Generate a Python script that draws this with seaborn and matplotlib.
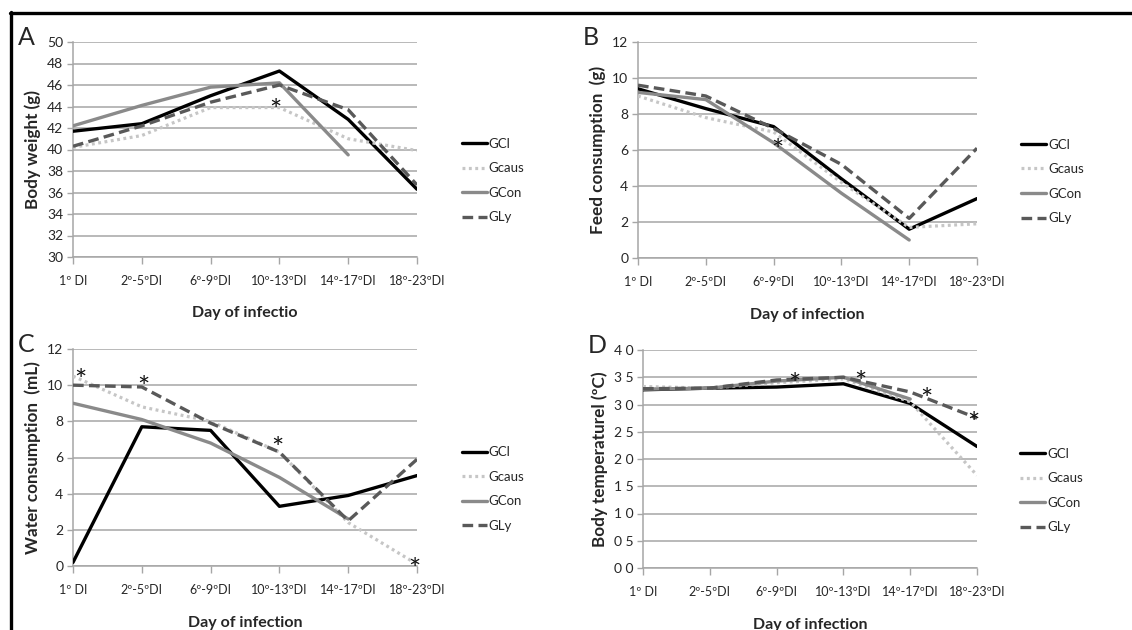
import numpy as np
import pandas as pd
import matplotlib
matplotlib.use("Agg")
import matplotlib.pyplot as plt
from matplotlib.lines import Line2D
from matplotlib.transforms import offset_copy
import seaborn as sns

sns.set_theme(style="white")
plt.rcParams['font.family'] = ['Lato', 'DejaVu Sans']

# ---------------- data ----------------
days = ["1º DI", "2º-5ºDI", "6º-9ºDI", "10º-13ºDI", "14º-17ºDI", "18º-23ºDI"]
groups = ["GCl", "Gcaus", "GCon", "GLy"]

weight_GCl = [41.7, 42.4, 45.0, 47.3, 42.8, 36.3]
weight_Gcaus = [40.2, 41.3, 43.9, 43.9, 41.0, 39.9]
weight_GCon = [42.2, 44.1, 45.8, 46.2, 39.5, np.nan]
weight_GLy = [40.3, 42.2, 44.4, 46.0, 43.7, 36.7]
weight_star_x = [2.94]
weight_star_y = [44.3]

feed_GCl = [9.4, 8.3, 7.3, 4.4, 1.6, 3.3]
feed_Gcaus = [9.0, 7.8, 7.0, 4.2, 1.7, 1.9]
feed_GCon = [9.2, 8.8, 6.4, 3.6, 1.0, np.nan]
feed_GLy = [9.6, 9.0, 7.2, 5.2, 2.2, 6.1]
feed_star_x = [2.06]
feed_star_y = [6.4]

water_GCl = [0.2, 7.7, 7.5, 3.3, 3.9, 5.0]
water_Gcaus = [10.5, 8.8, 8.0, 6.3, 2.4, 0.1]
water_GCon = [9.0, 8.1, 6.8, 4.9, 2.6, np.nan]
water_GLy = [10.0, 9.9, 7.9, 6.3, 2.5, 5.9]
water_star_x = [0.1, 1.02, 2.97, 4.96]
water_star_y = [10.7, 10.3, 6.9, 0.2]

temp_GCl = [32.7, 33.0, 33.2, 33.8, 30.2, 22.3]
temp_Gcaus = [33.3, 33.0, 34.0, 34.7, 30.5, 17.0]
temp_GCon = [32.8, 33.0, 34.3, 35.0, 31.0, np.nan]
temp_GLy = [32.9, 33.0, 34.5, 35.0, 32.3, 27.5]
temp_star_x = [2.27, 3.25, 4.24, 4.95]
temp_star_y = [35.0, 35.4, 32.3, 27.9]

temp_ticks = [0, 5, 10, 15, 20, 25, 30, 35, 40]
temp_ticklabels = ["0 0", "0 5", "1 0", "1 5", "2 0", "2 5", "3 0", "3 5", "4 0"]

# ---------------- styles ----------------
colors = {"GCl": "#000000", "Gcaus": "#c6c6c6", "GCon": "#8a8a8a", "GLy": "#595959"}
styles = {"GCl": "-", "Gcaus": (0, (0.9, 1.1)), "GCon": "-", "GLy": (0, (3.2, 1.6))}
widths = {"GCl": 2.4, "Gcaus": 2.3, "GCon": 2.4, "GLy": 2.4}
grid_c = "#a6a6a6"

fig = plt.figure(figsize=(11.32, 6.30), dpi=100)
W, H = 1132, 630

def axes_px(l, t, r, b):
    return fig.add_axes([l / W, 1 - b / H, (r - l) / W, (b - t) / H])

panels = [
    dict(box=(73, 42, 417, 257), series=[weight_GCl, weight_Gcaus, weight_GCon, weight_GLy],
         ylim=(30, 50), yticks=list(range(30, 51, 2)), yticklabels=None,
         ylabel="Body weight (g)", xlabel="Day of infectio", letter="A",
         sx=weight_star_x, sy=weight_star_y),
    dict(box=(638, 42, 977, 258), series=[feed_GCl, feed_Gcaus, feed_GCon, feed_GLy],
         ylim=(0, 12), yticks=list(range(0, 13, 2)), yticklabels=None,
         ylabel="Feed consumption  (g)", xlabel="Day of infection", letter="B",
         sx=feed_star_x, sy=feed_star_y),
    dict(box=(73, 349, 417, 566), series=[water_GCl, water_Gcaus, water_GCon, water_GLy],
         ylim=(0, 12), yticks=list(range(0, 13, 2)), yticklabels=None,
         ylabel="Water consumption  (mL)", xlabel="Day of infection", letter="C",
         sx=water_star_x, sy=water_star_y),
    dict(box=(643, 350, 977, 568), series=[temp_GCl, temp_Gcaus, temp_GCon, temp_GLy],
         ylim=(0, 40), yticks=temp_ticks, yticklabels=temp_ticklabels,
         ylabel="Body temperaturel (ºC)", xlabel="Day of infection", letter="D",
         sx=temp_star_x, sy=temp_star_y),
]

x = np.arange(len(days))
for p in panels:
    l, t, r, b = p["box"]
    ax = axes_px(l, t, r, b)
    handles = []
    for g, vals in zip(groups, p["series"]):
        df = pd.DataFrame({"x": x, "y": vals})
        sns.lineplot(data=df, x="x", y="y", ax=ax, color=colors[g],
                     linestyle=styles[g], linewidth=widths[g],
                     legend=False, zorder=3)
        handles.append(Line2D([], [], color=colors[g], linestyle=styles[g],
                              linewidth=widths[g]))
    star_tr = offset_copy(ax.transData, fig=fig, x=0, y=-9, units="dots")
    for sx, sy in zip(p["sx"], p["sy"]):
        ax.text(sx, sy, "*", ha="center", va="center", fontsize=21,
                color="#111111", zorder=5, transform=star_tr, clip_on=False)
    ax.set_xlim(0, 5)
    ax.set_ylim(*p["ylim"])
    ax.set_xticks(x)
    ax.set_xticklabels(days, fontsize=9)
    ax.set_yticks(p["yticks"])
    if p["yticklabels"] is not None:
        ax.set_yticklabels(p["yticklabels"])
    ax.tick_params(axis="y", labelsize=10, length=4, width=1, color=grid_c,
                   direction="out", pad=3, left=True)
    ax.tick_params(axis="x", length=5, width=1, color=grid_c, direction="out",
                   pad=8, bottom=True)
    ax.grid(axis="y", color=grid_c, linewidth=1.1)
    ax.grid(axis="x", visible=False)
    for s in ["top", "right"]:
        ax.spines[s].set_visible(False)
    for s in ["left", "bottom"]:
        ax.spines[s].set_color(grid_c)
        ax.spines[s].set_linewidth(1.1)
    ax.set_xlabel(p["xlabel"], fontsize=11.5, fontweight="bold", labelpad=14)
    ax.set_ylabel(p["ylabel"], fontsize=12.3, fontweight="bold", labelpad=4)
    ax.legend(handles, groups, loc="center left", bbox_to_anchor=(1.13, 0.355),
              frameon=False, fontsize=9.5, handlelength=1.9, handletextpad=0.15,
              labelspacing=0.95, borderaxespad=0, borderpad=0)
    fig.text((l - 55) / W, 1 - (t - 16) / H, p["letter"], fontsize=18,
             ha="left", va="top")

# outer frame lines (left and top)
fig.add_artist(Line2D([10.5 / W, 10.5 / W], [0, 1 - 12 / H], color="black",
                      linewidth=2.4, transform=fig.transFigure))
fig.add_artist(Line2D([9.5 / W, 1], [1 - 13 / H, 1 - 13 / H], color="black",
                      linewidth=2.4, transform=fig.transFigure))

fig.savefig("out.png", dpi=100)
